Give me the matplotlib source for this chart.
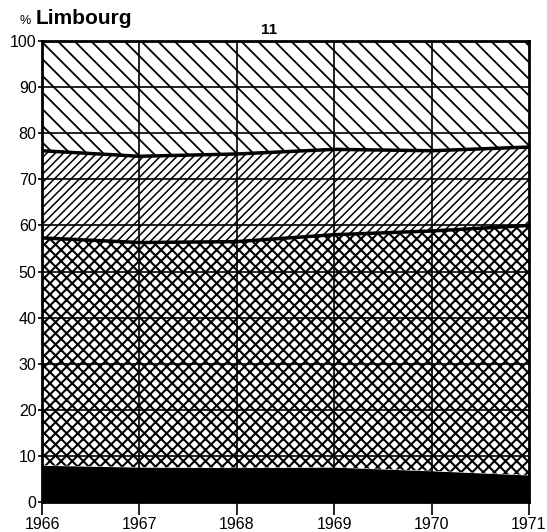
import numpy as np
from matplotlib import pyplot as plt

years = [1966, 1967, 1968, 1969, 1970, 1971]
black_top = [8.0, 7.6, 7.5, 7.6, 6.8, 5.9]
cross_top = [57.3, 56.3, 56.5, 58.0, 58.8, 60.0]
fwd_top = [76.2, 75.0, 75.5, 76.5, 76.2, 77.0]
total = [100, 100, 100, 100, 100, 100]

plt.rcParams['font.family'] = ['Liberation Sans', 'DejaVu Sans']

fig = plt.figure(figsize=(5.47, 5.32), dpi=100)
ax = fig.add_axes([0.077, 0.056, 0.890, 0.867])

ax.fill_between(years, 0, black_top, facecolor='black', edgecolor='black', lw=0)
plt.rcParams['hatch.linewidth'] = 1.5
ax.fill_between(years, black_top, cross_top, facecolor='white', edgecolor='black',
                hatch='xxx', lw=0)
plt.rcParams['hatch.linewidth'] = 1.1
ax.fill_between(years, cross_top, fwd_top, facecolor='white', edgecolor='black',
                hatch='////', lw=0)
plt.rcParams['hatch.linewidth'] = 1.3
ax.fill_between(years, fwd_top, total, facecolor='white', edgecolor='black',
                hatch='\\\\', lw=0)

ax.plot(years, cross_top, color='black', lw=2.5, zorder=3)
ax.plot(years, fwd_top, color='black', lw=2.5, zorder=3)

for v in range(10, 100, 10):
    ax.axhline(v, color='black', lw=1.2, zorder=2)
for y in years[1:-1]:
    ax.axvline(y, color='black', lw=1.2, zorder=2)

ax.set_xlim(1966, 1971)
ax.set_ylim(0, 100)
ax.set_yticks(range(0, 101, 10))
ax.set_xticks(years)
ax.tick_params(axis='y', labelsize=11.5, length=3, width=1.2, pad=1)
ax.tick_params(axis='x', labelsize=11.5, length=9, width=1.2, pad=2)
for s in ax.spines.values():
    s.set_linewidth(2)
    s.set_zorder(4)

fig.text(0.035, 0.955, '%', fontsize=9, va='baseline')
fig.text(0.065, 0.955, 'Limbourg', fontsize=15, fontweight='bold', va='baseline')
fig.text(0.492, 0.937, '11', fontsize=11, fontweight='bold', ha='center', va='baseline')

plt.savefig('out.png', dpi=100)
